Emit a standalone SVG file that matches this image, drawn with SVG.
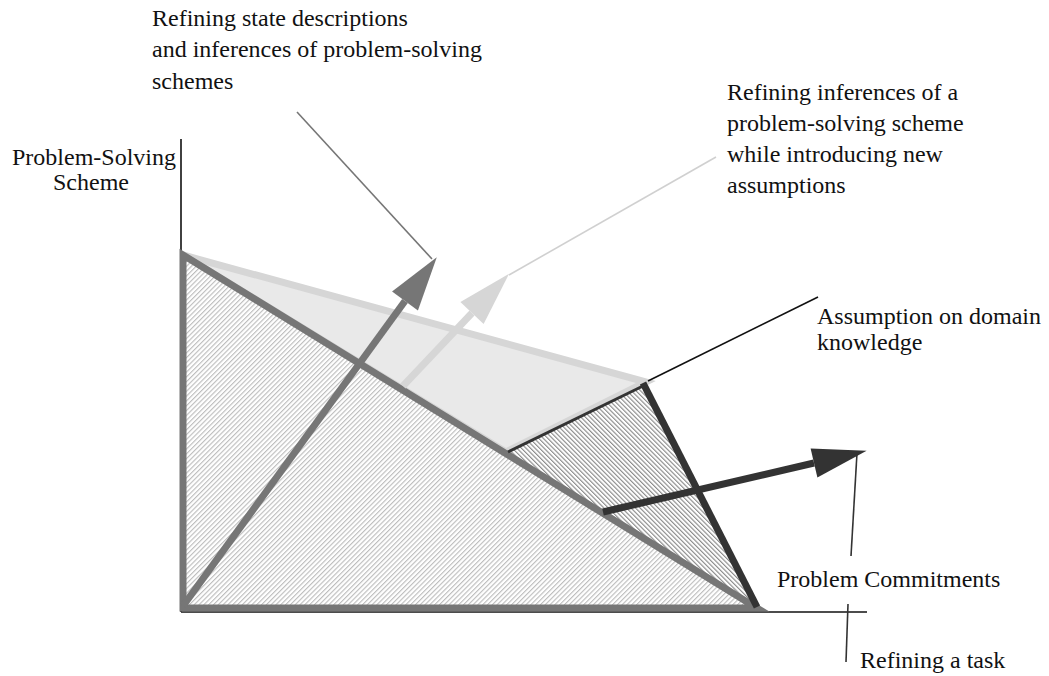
<svg xmlns="http://www.w3.org/2000/svg" width="1049" height="676" viewBox="0 0 1049 676">
  <style>
    .label { font-family: "Liberation Serif", "Times New Roman", serif; font-size: 24px; fill: #111; }
    .axis { stroke: #111; stroke-width: 1.6; fill: none; }
    .leader { stroke-width: 1.6; fill: none; }
    .shaft { stroke-width: 7; fill: none; stroke-linecap: butt; }
  </style>
  <defs>
    <!-- fine diagonal hatching: "/" for the task triangle, "\" for the domain wedge -->
    <pattern id="hatchTask" width="3.4" height="3.4" patternUnits="userSpaceOnUse" patternTransform="rotate(45)">
      <rect width="3.4" height="3.4" fill="#ffffff"/>
      <line x1="0.6" y1="0" x2="0.6" y2="3.4" stroke="#b4b4b4" stroke-width="1"/>
    </pattern>
    <pattern id="hatchDomain" width="3.2" height="3.2" patternUnits="userSpaceOnUse" patternTransform="rotate(-45)">
      <rect width="3.2" height="3.2" fill="#ffffff"/>
      <line x1="0.6" y1="0" x2="0.6" y2="3.2" stroke="#7a7a7a" stroke-width="1"/>
    </pattern>
    <marker id="headMid" markerUnits="userSpaceOnUse" markerWidth="54" markerHeight="34" refX="0" refY="17" orient="auto" overflow="visible">
      <path d="M0,1 L54,17 L0,33 Z" fill="#767676"/>
    </marker>
    <marker id="headLight" markerUnits="userSpaceOnUse" markerWidth="54" markerHeight="34" refX="0" refY="17" orient="auto" overflow="visible">
      <path d="M0,1 L54,17 L0,33 Z" fill="#d6d6d6"/>
    </marker>
    <marker id="headDark" markerUnits="userSpaceOnUse" markerWidth="54" markerHeight="32" refX="0" refY="16" orient="auto" overflow="visible">
      <path d="M0,1 L54,16 L0,31 Z" fill="#333333"/>
    </marker>
  </defs>

  <rect width="1049" height="676" fill="#ffffff"/>

  <!-- axes -->
  <g id="axes">
    <line class="axis" x1="181" y1="139" x2="181" y2="612"/>
    <line class="axis" x1="181" y1="612" x2="867" y2="612"/>
  </g>

  <!-- plane of problem-solving scheme refinement with new assumptions -->
  <g id="plane-assumption">
    <polygon points="183,255 646,382 506,452" fill="#e9e9e9" stroke="#d6d6d6" stroke-width="7" stroke-linejoin="miter"/>
  </g>

  <!-- task triangle -->
  <g id="triangle-task">
    <polygon points="183,255 183,608 757,608" fill="url(#hatchTask)"/>
  </g>

  <!-- domain knowledge wedge -->
  <g id="triangle-domain">
    <polygon points="643,386 757,606 508,452" fill="url(#hatchDomain)"/>
  </g>

  <g id="triangle-task-outline">
    <polygon points="183,255 183,608 757,608" fill="none" stroke="#767676" stroke-width="7" stroke-linejoin="miter" stroke-miterlimit="6"/>
  </g>

  <g id="triangle-domain-outline">
    <line x1="643" y1="386" x2="508" y2="452" stroke="#333333" stroke-width="3"/>
    <line x1="643" y1="383" x2="757" y2="607" stroke="#333333" stroke-width="7"/>
  </g>

  <!-- connectors: refinement arrows and label leaders -->
  <g id="connectors">
    <line class="shaft" x1="403" y1="386" x2="472" y2="313" stroke="#d6d6d6" marker-end="url(#headLight)"/>
    <line class="shaft" x1="183" y1="606" x2="405" y2="301" stroke="#767676" marker-end="url(#headMid)"/>
    <line class="shaft" x1="603" y1="512" x2="814" y2="463" stroke="#333333" marker-end="url(#headDark)"/>

    <line class="leader" x1="297" y1="112" x2="432" y2="259" stroke="#767676"/>
    <line class="leader" x1="509" y1="275" x2="716" y2="157" stroke="#d0d0d0"/>
    <line class="leader" x1="648" y1="381" x2="818" y2="297" stroke="#111111"/>
    <line class="leader" x1="857" y1="453" x2="851" y2="556" stroke="#333333" stroke-width="1.2"/>
    <line class="leader" x1="848" y1="604" x2="846" y2="662" stroke="#333333" stroke-width="1.2"/>
  </g>

  <!-- labels -->
  <g id="label-state">
    <text class="label" x="152" y="26">Refining state descriptions</text>
    <text class="label" x="152" y="57">and inferences of problem-solving</text>
    <text class="label" x="152" y="89">schemes</text>
  </g>
  <g id="label-axis-scheme">
    <text class="label" x="12" y="165">Problem-Solving</text>
    <text class="label" x="53" y="190">Scheme</text>
  </g>
  <g id="label-inferences">
    <text class="label" x="727" y="100">Refining inferences of a</text>
    <text class="label" x="727" y="131">problem-solving scheme</text>
    <text class="label" x="727" y="162">while introducing new</text>
    <text class="label" x="727" y="193">assumptions</text>
  </g>
  <g id="label-domain">
    <text class="label" x="817" y="324">Assumption on domain</text>
    <text class="label" x="817" y="350">knowledge</text>
  </g>
  <g id="label-axis-commitments">
    <text class="label" x="777" y="587">Problem Commitments</text>
  </g>
  <g id="label-task">
    <text class="label" x="860" y="668">Refining a task</text>
  </g>
</svg>
